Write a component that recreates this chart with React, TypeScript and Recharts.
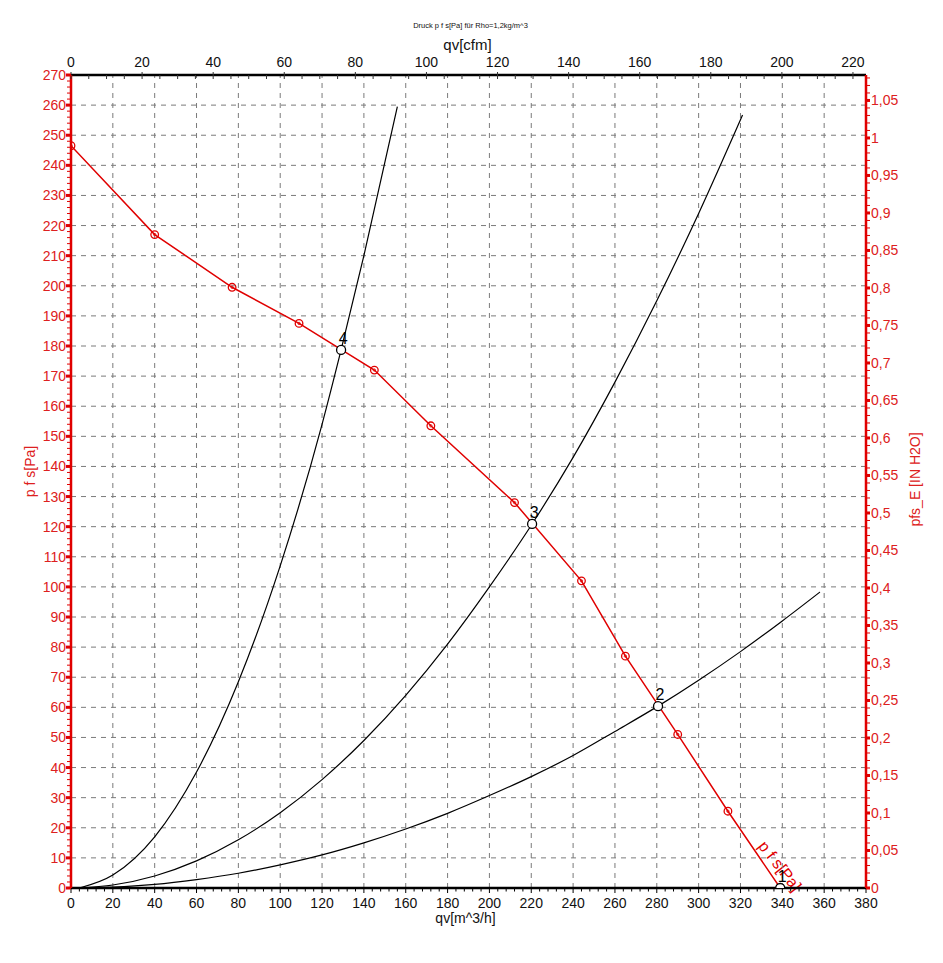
import React from "react";
import { ComposedChart, Line, XAxis, YAxis, ReferenceLine, Label } from "recharts";

// Fan curve p f s [Pa] vs qv [m^3/h]
const fanQ = [0, 40, 77, 109, 145, 172, 212, 244, 265, 290, 314, 339];
const fanP = [246.5, 217, 199.5, 187.5, 172, 153.5, 128, 102, 77, 51, 25.5, 0];

// System curves
const sysAQ = [4, 20, 40, 60, 80, 100, 120, 129.1, 140, 156];
const sysAP = [0, 4.3, 17, 38.5, 68.5, 107, 154, 178.7, 210, 259.5];

const sysBQ = [4, 20, 40, 60, 80, 100, 120, 140, 160, 180, 200, 220.4, 240, 260, 280, 300, 321];
const sysBP = [0, 1, 4, 9, 16, 25, 36, 49, 64, 81, 100, 120.9, 143, 168, 195, 224, 256.7];

const sysCQ = [4, 20, 40, 60, 80, 100, 120, 140, 160, 180, 200, 220, 240, 260, 280.6, 300, 320, 340, 358];
const sysCP = [0, 0.3, 1.2, 2.8, 4.9, 7.7, 11, 15, 19.6, 24.8, 30.7, 37, 44, 52, 60.4, 69, 78.5, 88.7, 98.3];

// Operating points
const opQ = [339, 280.6, 220.4, 129.1];
const opP = [0, 60.4, 120.9, 178.7];
const opLabels = ["1", "2", "3", "4"];

// Axis tick values
const bottomTicks: number[] = [];
for (let i = 0; i <= 95; i++) bottomTicks.push(i * 4);
const leftTicks: number[] = [];
for (let i = 0; i <= 135; i++) leftTicks.push(i * 2);
const topTicks: number[] = [];
for (let i = 0; i <= 44; i++) topTicks.push(i * 5);
const rightTicksI: number[] = [];
for (let i = 0; i <= 108; i++) rightTicksI.push(i);
const rightTicks = rightTicksI.map((i) => i / 100);
const gridX = [20, 40, 60, 80, 100, 120, 140, 160, 180, 200, 220, 240, 260, 280, 300, 320, 340, 360];
const gridY: number[] = [];
for (let i = 1; i <= 26; i++) gridY.push(i * 10);

const CM_TO_CFM = 0.5886;

const zip = (qs: number[], ps: number[]) => qs.map((q, i) => ({ q, p: ps[i] }));
const fanData = zip(fanQ, fanP);
const sysA = zip(sysAQ, sysAP);
const sysB = zip(sysBQ, sysBP);
const sysC = zip(sysCQ, sysCP);
const opData = opQ.map((q, i) => ({ q, p: opP[i], label: opLabels[i] }));
const dummyTop = [
  { cfm: 0, v: 0 },
  { cfm: 220, v: 1 },
];

const RED = "#e00000";
const RED_TXT = "#dd2020";
const FONT = "'Liberation Sans', Arial, sans-serif";

const BottomTick = (props: any) => {
  const { x, y, payload } = props;
  const v = payload.value;
  const major = Math.round(v) % 20 === 0;
  return (
    <g>
      <line x1={x} x2={x} y1={y} y2={y + (major ? 5 : 3.5)} stroke="#000" strokeWidth={1} />
      {major && (
        <text x={x} y={y + 20} textAnchor="middle" fontSize={14} fontFamily={FONT} fill="#111">
          {v}
        </text>
      )}
    </g>
  );
};

const TopTick = (props: any) => {
  const { x, y, payload } = props;
  const v = Math.round(payload.value);
  const major = v % 20 === 0;
  return (
    <g>
      <line x1={x} x2={x} y1={major ? y - 3 : y} y2={y + 4} stroke="#333" strokeWidth={1} />
      {major && (
        <text x={x} y={y - 8} textAnchor="middle" fontSize={14} fontFamily={FONT} fill="#111">
          {v}
        </text>
      )}
    </g>
  );
};

const LeftTick = (props: any) => {
  const { x, y, payload } = props;
  const v = Math.round(payload.value);
  const major = v % 10 === 0;
  return (
    <g>
      {major ? (
        <rect x={x - 5} y={y - 1.5} width={5} height={3} fill={RED} />
      ) : (
        <line x1={x - 4} x2={x} y1={y} y2={y} stroke={RED} strokeWidth={1} />
      )}
      {major && (
        <text x={x - 5} y={y + 5} textAnchor="end" fontSize={14} fontFamily={FONT} fill={RED_TXT}>
          {v}
        </text>
      )}
    </g>
  );
};

const RightTick = (props: any) => {
  const { x, y, payload } = props;
  const i = Math.round(payload.value * 100);
  const major = i % 5 === 0;
  const txt = (i / 100).toString().replace(".", ",");
  return (
    <g>
      {major ? (
        <rect x={x} y={y - 1.5} width={4} height={3} fill={RED} />
      ) : (
        <line x1={x} x2={x + 4} y1={y} y2={y} stroke={RED} strokeWidth={1} />
      )}
      {major && (
        <text x={x + 5} y={y + 5} textAnchor="start" fontSize={14} fontFamily={FONT} fill={RED_TXT}>
          {txt}
        </text>
      )}
    </g>
  );
};

const FanDot = (props: any) => {
  const { cx, cy, index } = props;
  if (index === fanData.length - 1) return <g key={`fd${index}`} />;
  return (
    <g key={`fd${index}`}>
      <circle cx={cx} cy={cy} r={3.8} fill="none" stroke={RED} strokeWidth={1.3} />
      <circle cx={cx} cy={cy} r={1.2} fill="none" stroke={RED} strokeWidth={0.8} />
    </g>
  );
};

const OpDot = (props: any) => {
  const { cx, cy, index, payload } = props;
  return (
    <g key={`op${index}`}>
      <circle cx={cx} cy={cy} r={4.5} fill="#fff" stroke="#000" strokeWidth={1.3} />
      <text x={cx + 2} y={cy - 6} textAnchor="middle" fontSize={16} fontFamily={FONT} fill="#000">
        {payload.label}
      </text>
    </g>
  );
};

export default function App() {
  return (
    <div style={{ position: "absolute", left: 0, top: 0, width: 943, height: 963, background: "#fff" }}>
      <ComposedChart width={943} height={963} margin={{ top: 0, right: 0, bottom: 0, left: 0 }}>
        <XAxis
          xAxisId="bottom"
          dataKey="q"
          type="number"
          domain={[0, 380]}
          allowDataOverflow
          ticks={bottomTicks}
          interval={0}
          tick={<BottomTick />}
          tickLine={false}
          tickSize={0}
          tickMargin={0}
          height={75}
          axisLine={{ stroke: "#000", strokeWidth: 2.5 }}
        >
          <Label
            content={(p: any) => {
              const vb = p.viewBox;
              return (
                <text x={vb.x + vb.width / 2 - 3} y={vb.y + 35} textAnchor="middle" fontSize={14} fontFamily={FONT} fill="#111">
                  qv[m^3/h]
                </text>
              );
            }}
          />
        </XAxis>
        <XAxis
          xAxisId="top"
          orientation="top"
          dataKey="cfm"
          type="number"
          domain={[0, 380 * CM_TO_CFM]}
          allowDataOverflow
          ticks={topTicks}
          interval={0}
          tick={<TopTick />}
          tickLine={false}
          tickSize={0}
          tickMargin={0}
          height={75}
          axisLine={{ stroke: "#000", strokeWidth: 2.5 }}
        >
          <Label
            content={(p: any) => {
              const vb = p.viewBox;
              const cx = vb.x + vb.width / 2;
              return (
                <g>
                  <text x={cx + 2} y={28} textAnchor="middle" fontSize={7.5} fontFamily={FONT} fill="#111">
                    Druck p f s[Pa] für Rho=1,2kg/m^3
                  </text>
                  <text x={cx - 1} y={50} textAnchor="middle" fontSize={15} fontFamily={FONT} fill="#111">
                    qv[cfm]
                  </text>
                </g>
              );
            }}
          />
        </XAxis>
        <YAxis
          yAxisId="left"
          dataKey="p"
          type="number"
          domain={[0, 270]}
          allowDataOverflow
          ticks={leftTicks}
          interval={0}
          tick={<LeftTick />}
          tickLine={false}
          tickSize={0}
          tickMargin={0}
          width={71}
          axisLine={{ stroke: RED, strokeWidth: 2.5 }}
        >
          <Label
            content={(p: any) => {
              const vb = p.viewBox;
              const cy = vb.y + vb.height / 2 - 10;
              return (
                <text x={30} y={cy} transform={`rotate(-90 30 ${cy})`} textAnchor="middle" dominantBaseline="central" fontSize={14} fontFamily={FONT} fill={RED_TXT}>
                  p f s[Pa]
                </text>
              );
            }}
          />
        </YAxis>
        <YAxis
          yAxisId="right"
          orientation="right"
          dataKey="v"
          type="number"
          domain={[0, 270 / 249.09]}
          allowDataOverflow
          ticks={rightTicks}
          interval={0}
          tick={<RightTick />}
          tickLine={false}
          tickSize={0}
          tickMargin={0}
          width={77}
          axisLine={{ stroke: RED, strokeWidth: 2.5 }}
        >
          <Label
            content={(p: any) => {
              const vb = p.viewBox;
              const cy = vb.y + vb.height / 2 - 2;
              return (
                <text x={915} y={cy} transform={`rotate(-90 915 ${cy})`} textAnchor="middle" dominantBaseline="central" fontSize={14} fontFamily={FONT} fill={RED_TXT}>
                  pfs_E [IN H2O]
                </text>
              );
            }}
          />
        </YAxis>

        {gridX.map((v) => (
          <ReferenceLine key={`gx${v}`} xAxisId="bottom" yAxisId="left" x={v} stroke="#7a7a7a" strokeDasharray="5 5" strokeWidth={1} />
        ))}
        {gridY.map((v) => (
          <ReferenceLine key={`gy${v}`} xAxisId="bottom" yAxisId="left" y={v} stroke="#7a7a7a" strokeDasharray="5 5" strokeWidth={1} />
        ))}

        <Line xAxisId="top" yAxisId="right" data={dummyTop} dataKey="v" stroke="none" dot={false} isAnimationActive={false} />

        <Line xAxisId="bottom" yAxisId="left" data={sysA} dataKey="p" type="monotone" stroke="#000" strokeWidth={1.2} dot={false} isAnimationActive={false} />
        <Line xAxisId="bottom" yAxisId="left" data={sysB} dataKey="p" type="monotone" stroke="#000" strokeWidth={1.2} dot={false} isAnimationActive={false} />
        <Line xAxisId="bottom" yAxisId="left" data={sysC} dataKey="p" type="monotone" stroke="#000" strokeWidth={1.2} dot={false} isAnimationActive={false} />

        <Line xAxisId="bottom" yAxisId="left" data={fanData} dataKey="p" type="linear" stroke={RED} strokeWidth={1.5} dot={FanDot} activeDot={false} isAnimationActive={false} />

        <Line xAxisId="bottom" yAxisId="left" data={opData} dataKey="p" stroke="none" dot={OpDot} activeDot={false} isAnimationActive={false} />

        <text x={780} y={866} transform="rotate(52 780 866)" textAnchor="middle" dominantBaseline="central" fontSize={16} fontFamily={FONT} fill={RED}>
          p f s[Pa]
        </text>
      </ComposedChart>
    </div>
  );
}
